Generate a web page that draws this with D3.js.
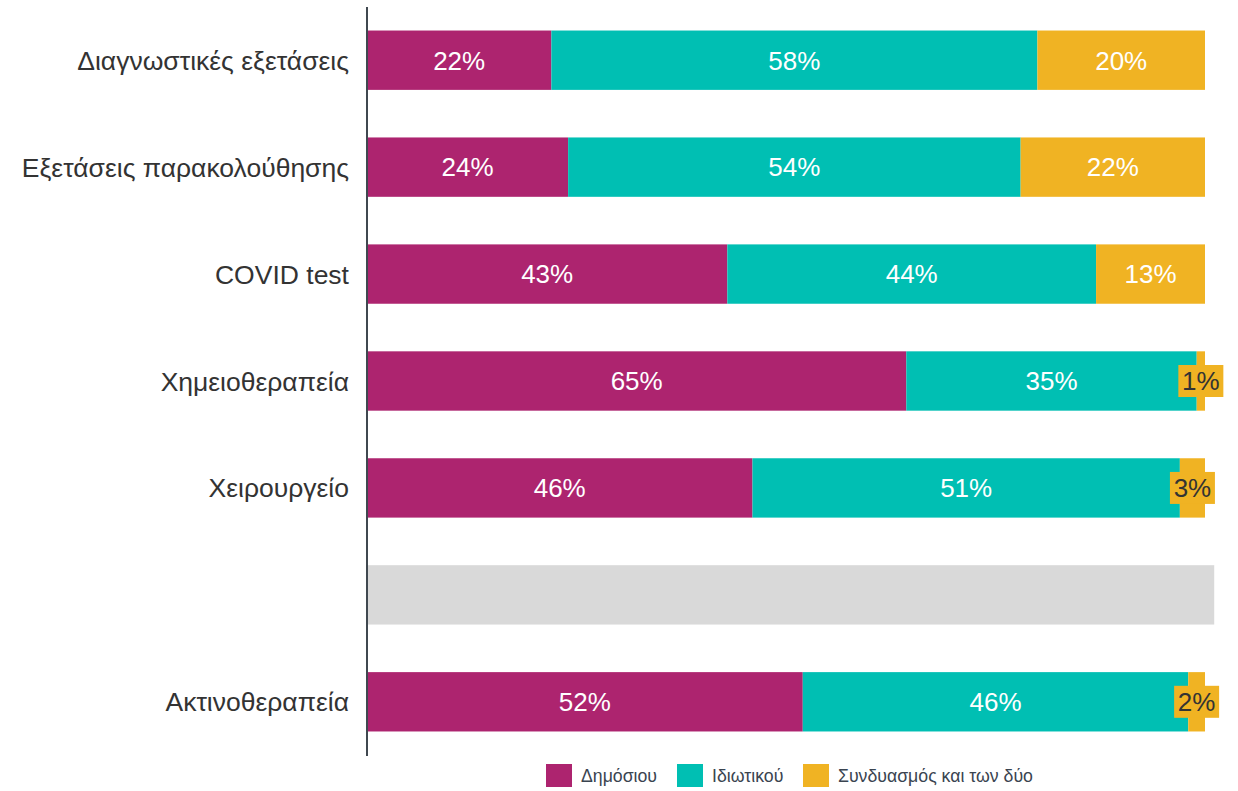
<!DOCTYPE html>
<html><head><meta charset="utf-8">
<script src="https://cdn.jsdelivr.net/npm/d3@7"></script>
<style>body{margin:0;background:#fff;}svg{display:block;font-family:"Liberation Sans",Arial,sans-serif;}</style>
</head><body>
<svg id="chart" width="1238" height="791"></svg>
<script>
const categories = ["Διαγνωστικές εξετάσεις","Εξετάσεις παρακολούθησης","COVID test","Χημειοθεραπεία","Χειρουργείο","","Ακτινοθεραπεία"];
const seriesNames = ["Δημόσιου","Ιδιωτικού","Συνδυασμός και των δύο"];
const publicVals   = [22,24,43,65,46,null,52];
const privateVals  = [58,54,44,35,51,null,46];
const bothVals     = [20,22,13,1,3,null,2];
const colors = ["#AD246F","#00BFB3","#F0B323"];
const separatorIndex = 5;

const svg = d3.select("#chart");
const x = d3.scaleLinear().domain([0,1]).range([367,1205]);
const y = d3.scaleBand().domain(d3.range(categories.length)).range([7,755]).paddingInner(0.445).paddingOuter(0.22);

const rows = categories.map((c,i)=>({i, a:publicVals[i]||0, b:privateVals[i]||0, c:bothVals[i]||0}));
const keys = ["a","b","c"];
const stack = d3.stack().keys(keys).offset(d3.stackOffsetExpand);
const dataRows = rows.filter(r=>r.i!==separatorIndex);
const series = stack(dataRows);

// separator grey bar
svg.append("rect").attr("x",x(0)).attr("y",y(separatorIndex))
  .attr("width",x(1.011)-x(0)).attr("height",y.bandwidth()).attr("fill","#D9D9D9");

const vals = [publicVals, privateVals, bothVals];
series.forEach((s,k)=>{
  const g = svg.append("g");
  g.selectAll("rect").data(s).join("rect")
    .attr("x",d=>x(d[0])).attr("y",d=>y(d.data.i))
    .attr("width",d=>x(d[1])-x(d[0])).attr("height",y.bandwidth())
    .attr("fill",colors[k]);
});
// labels
series.forEach((s,k)=>{
  s.forEach(d=>{
    const v = vals[k][d.data.i];
    const cx = (x(d[0])+x(d[1]))/2, cy = y(d.data.i)+y.bandwidth()/2;
    const small = (x(d[1])-x(d[0])) < 50;
    if(small){
      svg.append("rect").attr("x",cx-22.5).attr("y",cy-16).attr("width",45).attr("height",32).attr("fill",colors[k]);
    }
    svg.append("text").attr("x",cx).attr("y",cy).attr("dy","0.36em")
      .attr("text-anchor","middle").attr("font-size",26)
      .attr("fill", small ? "#333333" : "#ffffff").text(v+"%");
  });
});

// category labels
svg.append("g").selectAll("text").data(categories).join("text")
  .attr("x",349).attr("y",(d,i)=>y(i)+y.bandwidth()/2).attr("dy","0.36em")
  .attr("text-anchor","end").attr("font-size",26.5).attr("fill","#333333").text(d=>d);

// axis line
svg.append("line").attr("x1",367).attr("x2",367).attr("y1",7).attr("y2",756)
  .attr("stroke","#404850").attr("stroke-width",2);

// legend
const legX = [546,677,803];
seriesNames.forEach((n,k)=>{
  svg.append("rect").attr("x",legX[k]).attr("y",764).attr("width",26).attr("height",23).attr("fill",colors[k]);
  svg.append("text").attr("x",legX[k]+35).attr("y",776).attr("dy","0.36em")
    .attr("font-size",17.7).attr("fill","#3a4450").text(n);
});
</script>
</body></html>
